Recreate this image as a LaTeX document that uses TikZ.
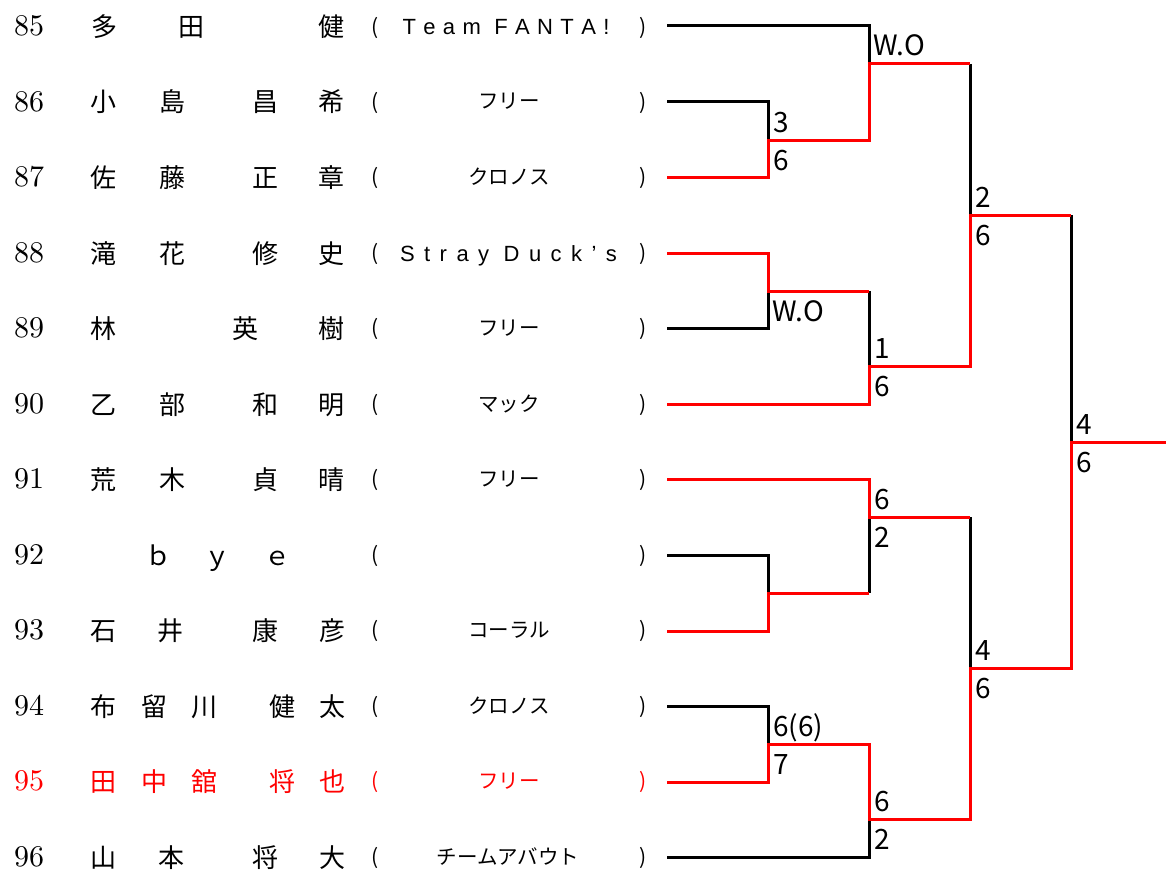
\documentclass[tikz,border=0pt]{standalone}
\usepackage{fontspec}
\newfontfamily\jp{Noto Sans CJK JP}
\newfontfamily\lat{Liberation Sans}
\newfontfamily\numf{lmroman10-regular.otf}
\definecolor{wred}{RGB}{255,0,0}
\tikzset{
  num/.style={anchor=base west, inner sep=0pt, font=\numf\fontsize{30}{30}\selectfont},
  nm/.style={anchor=base, inner sep=0pt, font=\jp\fontsize{26}{26}\selectfont},
  tm/.style={anchor=base, inner sep=0pt, font=\jp\fontsize{20.5}{20.5}\selectfont},
  tl/.style={anchor=base, inner sep=0pt, font=\lat\fontsize{22}{22}\selectfont},
  paren/.style={anchor=center, inner sep=0pt, font=\jp\fontsize{21}{21}\selectfont},
  sc/.style={anchor=base west, inner sep=0pt, font=\jp\fontsize{28}{28}\selectfont},
  bl/.style={line width=3pt, black},
  rd/.style={line width=3pt, wred},
  winner/.style={text=wred}
}
\newcommand\jc[4][]{\node[nm,#1] (#2) at (#3) {#4};}
\begin{document}
\begin{tikzpicture}[x=1pt,y=-1pt]
\useasboundingbox[fill=white] (0,0) rectangle (1166,872);

% ---- row 85
\node[num] (n85) at (14,36) {85};
\jc{a85}{104,37}{多}\jc{b85}{191,37}{田}\jc{c85}{331,37}{健}
\node[paren] (l85) at (375,28) {(};
\node[tl] (t85) at (506,35) {\makebox[207pt][s]{T\hfil e\hfil a\hfil m\hspace{6pt}\hfil F\hfil A\hfil N\hfil T\hfil A\hfil !}};
\node[paren] (r85) at (643,28) {)};
% ---- row 86
\node[num] (n86) at (14,111) {86};
\jc{a86}{103,112}{小}\jc{b86}{172,112}{島}\jc{c86}{265,112}{昌}\jc{d86}{331,112}{希}
\node[paren] (l86) at (375,103) {(};
\node[tm] (t86) at (509,109) {フリー};
\node[paren] (r86) at (643,103) {)};
% ---- row 87
\node[num] (n87) at (14,186) {87};
\jc{a87}{103,187}{佐}\jc{b87}{172,187}{藤}\jc{c87}{265,187}{正}\jc{d87}{331,187}{章}
\node[paren] (l87) at (375,178) {(};
\node[tm] (t87) at (509,184) {クロノス};
\node[paren] (r87) at (643,178) {)};
% ---- row 88
\node[num] (n88) at (14,262) {88};
\jc{a88}{103,263}{滝}\jc{b88}{172,263}{花}\jc{c88}{265,263}{修}\jc{d88}{331,263}{史}
\node[paren] (l88) at (375,254) {(};
\node[tl] (t88) at (508.5,261) {\makebox[217pt][s]{S\hfil t\hfil r\hfil a\hfil y\hspace{5pt}\hfil D\hfil u\hfil c\hfil k\hfil ’\hfil s}};
\node[paren] (r88) at (643,254) {)};
% ---- row 89
\node[num] (n89) at (14,337) {89};
\jc{a89}{103,338}{林}\jc{b89}{245,338}{英}\jc{c89}{331,338}{樹}
\node[paren] (l89) at (375,329) {(};
\node[tm] (t89) at (509,335) {フリー};
\node[paren] (r89) at (643,329) {)};
% ---- row 90
\node[num] (n90) at (14,413) {90};
\jc{a90}{103,414}{乙}\jc{b90}{172,414}{部}\jc{c90}{265,414}{和}\jc{d90}{331,414}{明}
\node[paren] (l90) at (375,405) {(};
\node[tm] (t90) at (509,411) {マック};
\node[paren] (r90) at (643,405) {)};
% ---- row 91
\node[num] (n91) at (14,488) {91};
\jc{a91}{103,489}{荒}\jc{b91}{172,489}{木}\jc{c91}{265,489}{貞}\jc{d91}{331,489}{晴}
\node[paren] (l91) at (375,480) {(};
\node[tm] (t91) at (509,486) {フリー};
\node[paren] (r91) at (643,480) {)};
% ---- row 92
\node[num] (n92) at (14,564) {92};
\jc{a92}{158,565}{ｂ}\jc{b92}{217,565}{ｙ}\jc{c92}{277,565}{ｅ}
\node[paren] (l92) at (375,556) {(};
\node[paren] (r92) at (643,556) {)};
% ---- row 93
\node[num] (n93) at (14,639) {93};
\jc{a93}{103,640}{石}\jc{b93}{170,640}{井}\jc{c93}{265,640}{康}\jc{d93}{332,640}{彦}
\node[paren] (l93) at (375,631) {(};
\node[tm] (t93) at (509,637) {コーラル};
\node[paren] (r93) at (643,631) {)};
% ---- row 94
\node[num] (n94) at (14,715) {94};
\jc{a94}{103,716}{布}\jc{b94}{154,716}{留}\jc{c94}{204,716}{川}\jc{d94}{282,716}{健}\jc{e94}{332,716}{太}
\node[paren] (l94) at (375,707) {(};
\node[tm] (t94) at (509,713) {クロノス};
\node[paren] (r94) at (643,707) {)};
% ---- row 95 (winner, red)
\node[num,winner] (n95) at (14,790) {95};
\jc[winner]{a95}{103,791}{田}\jc[winner]{b95}{154,791}{中}\jc[winner]{c95}{204,791}{舘}\jc[winner]{d95}{282,791}{将}\jc[winner]{e95}{332,791}{也}
\node[paren,winner] (l95) at (375,782) {(};
\node[tm,winner] (t95) at (509,788) {フリー};
\node[paren,winner] (r95) at (643,782) {)};
% ---- row 96
\node[num] (n96) at (14,866) {96};
\jc{a96}{103,867}{山}\jc{b96}{171,867}{本}\jc{c96}{265,867}{将}\jc{d96}{332,867}{大}
\node[paren] (l96) at (375,858) {(};
\node[tm] (t96) at (508,864) {チームアバウト};
\node[paren] (r96) at (643,858) {)};

% ---- bracket coordinates
\coordinate (e85) at (667,26);
\coordinate (e86) at (667,102);
\coordinate (e87) at (667,177);
\coordinate (e88) at (667,253);
\coordinate (e89) at (667,328);
\coordinate (e90) at (667,404);
\coordinate (e91) at (667,479);
\coordinate (e92) at (667,555);
\coordinate (e93) at (667,631);
\coordinate (e94) at (667,706);
\coordinate (e95) at (667,782);
\coordinate (e96) at (667,857);
\coordinate (j1) at (768,140);
\coordinate (j2) at (869,64);
\coordinate (j3) at (768,291);
\coordinate (j4) at (869,366);
\coordinate (j5) at (970,215);
\coordinate (j6) at (1071,442);
\coordinate (j7) at (869,517);
\coordinate (j8) at (768,593);
\coordinate (j9) at (970,668);
\coordinate (j10) at (768,744);
\coordinate (j11) at (869,819);
\coordinate (t4) at (869,291);
\coordinate (t5) at (970,64);
\coordinate (t6) at (1071,215);
\coordinate (t9) at (970,517);
\coordinate (b7) at (869,593);
\coordinate (fin) at (1166,442);

% ---- losing paths (black)
\draw[bl] (e85) -| (j2);
\draw[bl] (e86) -| (j1);
\draw[bl] (e89) -| (j3);
\draw[bl] (t4) -- (j4);
\draw[bl] (t5) -- (j5);
\draw[bl] (t6) -- (j6);
\draw[bl] (j7) -- (b7);
\draw[bl] (e92) -| (j8);
\draw[bl] (t9) -- (j9);
\draw[bl] (e94) -| (j10);
\draw[bl] (e96) -| (j11);

% ---- winning paths (red)
\draw[rd] (e87) -| (j1) -| (j2) -- (t5);
\draw[rd] (e88) -| (j3) -- (t4);
\draw[rd] (e90) -| (j4) -| (j5) -- (t6);
\draw[rd] (e91) -| (j7) -- (t9);
\draw[rd] (e93) -| (j8) -- (b7);
\draw[rd] (e95) -| (j10) -| (j11) -| (j9) -| (j6) -- (fin);

% ---- scores
\node[sc] (s2a) at ([shift={(4,-8)}]j2) {W.O};
\node[sc] (s1a) at ([shift={(5,-8)}]j1) {3};
\node[sc] (s1b) at ([shift={(5,30)}]j1) {6};
\node[sc] (s3b) at ([shift={(4,30)}]j3) {W.O};
\node[sc] (s4a) at ([shift={(5,-8)}]j4) {1};
\node[sc] (s4b) at ([shift={(5,30)}]j4) {6};
\node[sc] (s5a) at ([shift={(5,-8)}]j5) {2};
\node[sc] (s5b) at ([shift={(5,30)}]j5) {6};
\node[sc] (s6a) at ([shift={(5,-8)}]j6) {4};
\node[sc] (s6b) at ([shift={(5,30)}]j6) {6};
\node[sc] (s7a) at ([shift={(5,-8)}]j7) {6};
\node[sc] (s7b) at ([shift={(5,30)}]j7) {2};
\node[sc] (s9a) at ([shift={(5,-8)}]j9) {4};
\node[sc] (s9b) at ([shift={(5,30)}]j9) {6};
\node[sc] (s10a) at ([shift={(5,-8)}]j10) {6(6)};
\node[sc] (s10b) at ([shift={(5,30)}]j10) {7};
\node[sc] (s11a) at ([shift={(5,-8)}]j11) {6};
\node[sc] (s11b) at ([shift={(5,30)}]j11) {2};
\end{tikzpicture}
\end{document}
